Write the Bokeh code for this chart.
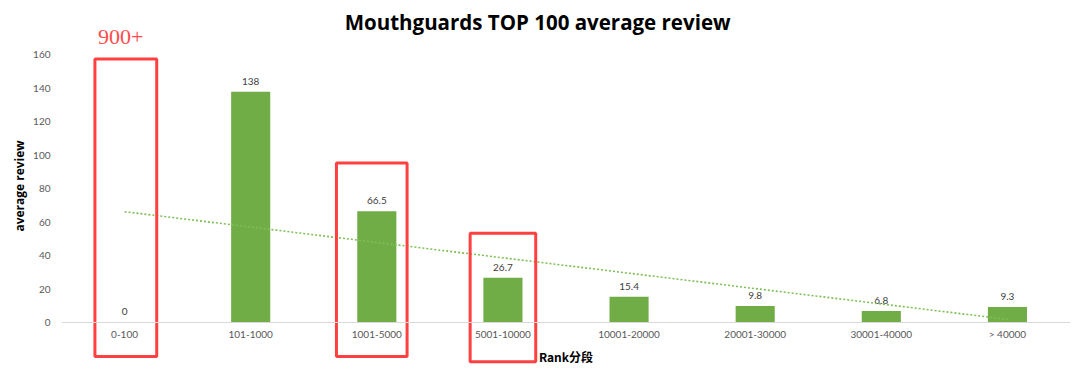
import numpy as np
from bokeh.plotting import figure
from bokeh.models import ColumnDataSource, Range1d, FactorRange, FixedTicker
from bokeh.core.properties import value
from bokeh.embed import file_html
from bokeh.resources import INLINE

# ---- data ----
categories = ["0-100", "101-1000", "1001-5000", "5001-10000",
              "10001-20000", "20001-30000", "30001-40000", "> 40000"]
reviews = [0, 138, 66.5, 26.7, 15.4, 9.8, 6.8, 9.3]
value_labels = ["0", "138", "66.5", "26.7", "15.4", "9.8", "6.8", "9.3"]
y_ticks = [0, 20, 40, 60, 80, 100, 120, 140, 160]

title_text = "Mouthguards TOP 100 average review"
x_title = "Rank分段"
y_title = "average review"

# highlight boxes (annotation)
hl_categories = ["0-100", "1001-5000", "5001-10000"]
hl_shift = [0.01, -0.04, 0.0]
hl_tops = [157.6, 95.3, 53.3]
hl_bottoms = [-20.4, -20.4, -23.4]
hl_widths = [0.49, 0.56, 0.52]
note_text = "900+"

GREEN = "#70AD47"

p = figure(width=1072, height=371, output_backend="svg", toolbar_location=None,
           x_range=FactorRange(factors=categories),
           y_range=Range1d(-29.3, 192.5),
           title=None, min_border_left=61, min_border_right=2,
           min_border_top=0, min_border_bottom=0)
p.outline_line_color = None
p.xgrid.visible = False
p.ygrid.visible = False
p.background_fill_color = "white"
p.border_fill_color = "white"

src = ColumnDataSource(dict(cat=categories, val=reviews, lab=value_labels))
p.vbar(x="cat", top="val", bottom=0, width=0.31, source=src,
       fill_color=GREEN, line_color=None)
p.text(x="cat", y="val", text="lab", source=src, text_align="center",
       text_baseline="bottom", y_offset=-7, text_font_size="10px",
       text_color="#404040", text_font=value("Lato"))

# linear trend line
xs = np.arange(1, len(reviews) + 1)
k, b = np.polyfit(xs, reviews, 1)
p.line(x=[categories[0], categories[-1]], y=[k * xs[0] + b, k * xs[-1] + b],
       line_color="#7fbf55", line_width=1.6, line_dash="2 2")

# highlight boxes
hl_x = [categories.index(c) + 0.5 + s for c, s in zip(hl_categories, hl_shift)]
hl_y = [(t + bt) / 2 for t, bt in zip(hl_tops, hl_bottoms)]
hl_h = [t - bt for t, bt in zip(hl_tops, hl_bottoms)]
p.rect(x=hl_x, y=hl_y, width=hl_widths, height=hl_h,
       fill_color=None, line_color="#FF4040", line_width=3)
p.text(x=[0.47], y=[170.5], text=[note_text], text_align="center",
       text_baseline="middle", text_font_size="22px",
       text_color="#FF4B4B", text_font=value("Liberation Serif"))

# title
p.text(x=[3.775], y=[179.5], text=[title_text], text_align="center",
       text_baseline="middle", text_font_size="20.5px", text_font_style="bold",
       text_color="#000000", text_font=value("Open Sans"))

# axes
xa = p.xaxis[0]
xa.fixed_location = 0
xa.axis_line_color = "#d9d9d9"
xa.axis_line_width = 1
xa.major_tick_line_color = None
xa.minor_tick_line_color = None
xa.major_tick_out = 0
xa.major_tick_in = 0
xa.major_label_text_font = "Lato"
xa.major_label_text_font_size = "10px"
xa.major_label_text_color = "#595959"
xa.major_label_standoff = 6
xa.axis_label = x_title
xa.axis_label_text_font = "Noto Sans CJK SC"
xa.axis_label_text_font_style = "bold"
xa.axis_label_text_font_size = "12px"
xa.axis_label_text_color = "#000000"
xa.axis_label_standoff = 4

ya = p.yaxis[0]
ya.ticker = FixedTicker(ticks=y_ticks)
ya.axis_line_color = None
ya.major_tick_line_color = None
ya.minor_tick_line_color = None
ya.major_tick_out = 0
ya.major_tick_in = 0
ya.major_label_text_font = "Lato"
ya.major_label_text_font_size = "10px"
ya.major_label_text_color = "#595959"
ya.major_label_standoff = 11
ya.axis_label = y_title
ya.axis_label_text_font = "Open Sans"
ya.axis_label_text_font_style = "bold"
ya.axis_label_text_font_size = "12px"
ya.axis_label_text_color = "#000000"
ya.axis_label_standoff = 2

open("out.html", "w").write(file_html(p, INLINE))
